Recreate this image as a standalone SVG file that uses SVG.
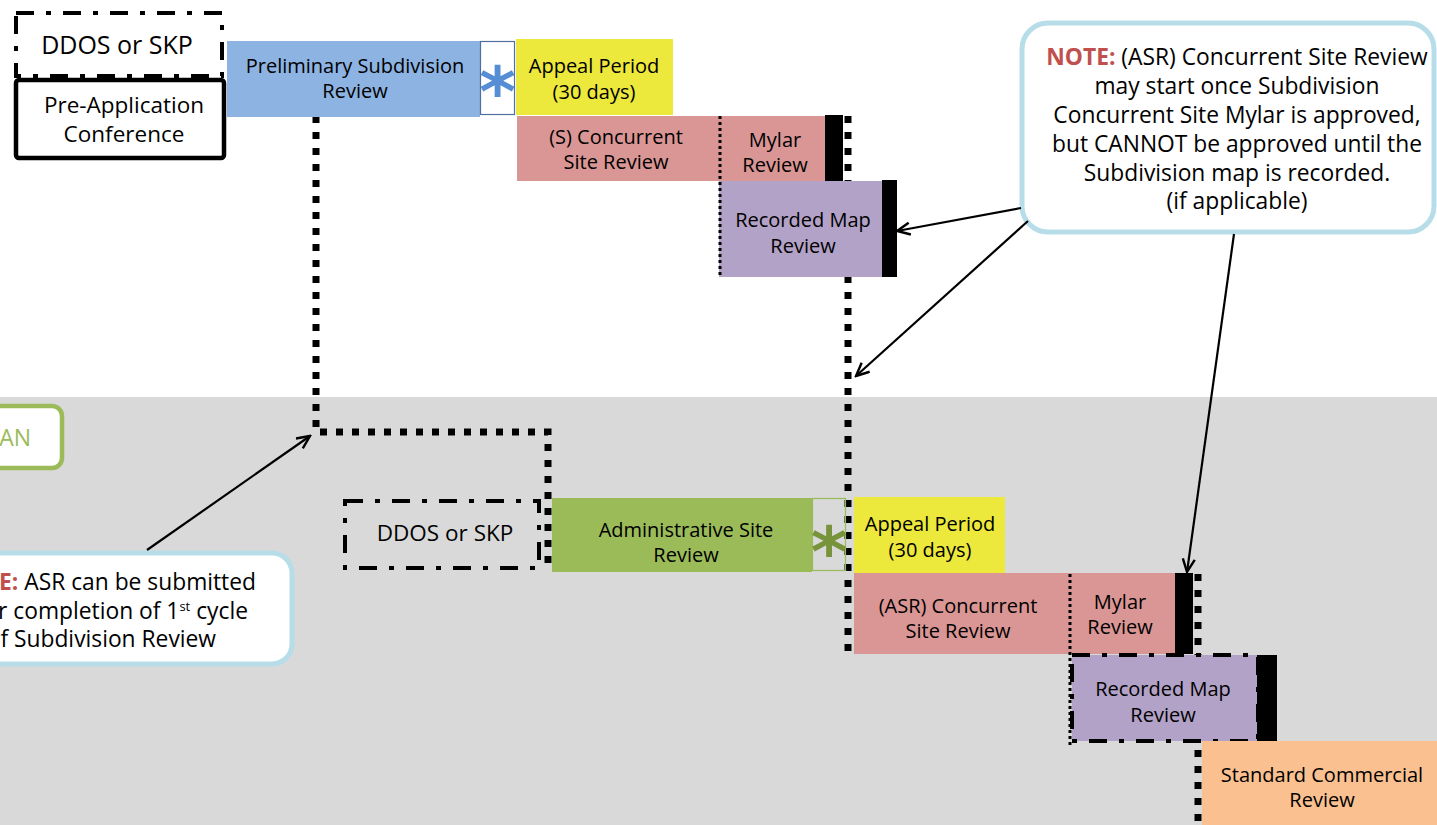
<svg xmlns="http://www.w3.org/2000/svg" width="1437" height="825" viewBox="0 0 1437 825">
<defs>
<style>
text{font-family:"Open Sans","Noto Sans","DejaVu Sans",sans-serif;fill:#000;}
.t{font-size:20px;text-anchor:middle;}
.big{font-size:24px;text-anchor:middle;}
.note{font-size:22.8px;text-anchor:middle;}
.nl{font-size:22.8px;text-anchor:end;}
.red{fill:#c0504d;font-weight:bold;}
.bigdot{fill:none;stroke:#000;stroke-width:7;stroke-dasharray:7 9;}
.smdot{fill:none;stroke:#000;stroke-width:3;stroke-dasharray:3 3;}
.dashdot{fill:none;stroke:#000;stroke-width:4;stroke-dasharray:18 12 5 12;}
.arrow{fill:none;stroke:#000;stroke-width:2.2;marker-end:url(#open);}
.blue{fill:#8db3e2;}
.yellow{fill:#ece83c;}
.pink{fill:#da9694;}
.purple{fill:#b3a2c7;}
.green{fill:#9bbb59;}
.orange{fill:#fac090;}
.bar{fill:#000;}
.notebox{fill:#fff;stroke:#b7dde8;stroke-width:5;}
.ast{font-family:"DejaVu Sans",sans-serif;font-weight:bold;font-size:70px;text-anchor:middle;}
</style>
<marker id="open" markerUnits="userSpaceOnUse" markerWidth="16" markerHeight="16" refX="14" refY="7" orient="auto">
<path d="M1,1 L14,7 L1,13" fill="none" stroke="#000" stroke-width="2.4"/>
</marker>
</defs>

<rect x="0" y="0" width="1437" height="397" fill="#fff"/>
<rect x="0" y="397" width="1437" height="428" fill="#d9d9d9"/>

<g id="connectors">
<polyline class="bigdot" points="316,116 316,432 548,432 548,572"/>
<line class="bigdot" x1="848" y1="116" x2="848" y2="654"/>
<line class="bigdot" x1="1198" y1="574" x2="1198" y2="825"/>
</g>

<g id="ddos-top">
<rect class="dashdot" x="16" y="13" width="206" height="63"/>
<text class="big" x="117" y="54" style="font-size:25px">DDOS or SKP</text>
</g>

<g id="pre-app">
<rect x="16" y="80" width="208" height="78" rx="3" fill="#fff" stroke="#000" stroke-width="4.5"/>
<text class="big" x="124" y="113" style="font-size:22.5px">Pre-Application</text>
<text class="big" x="124" y="142" style="font-size:22.5px">Conference</text>
</g>

<g id="prelim">
<rect class="blue" x="227" y="41" width="253" height="76"/>
<text class="t" x="355" y="73">Preliminary Subdivision</text>
<text class="t" x="355" y="98">Review</text>
</g>

<g id="ast-top">
<rect x="480.5" y="41.5" width="34" height="73" fill="#fff" stroke="#4f6fa0" stroke-width="1.2"/>
<text class="ast" x="497.5" y="116" style="fill:#558ed5">*</text>
</g>

<g id="appeal-top">
<rect class="yellow" x="516" y="39" width="157" height="76"/>
<text class="t" x="594" y="73">Appeal Period</text>
<text class="t" x="594" y="99">(30 days)</text>
</g>

<g id="concurrent-top">
<rect class="pink" x="517" y="116" width="309" height="65"/>
<text class="t" x="616" y="144">(S) Concurrent</text>
<text class="t" x="616" y="169">Site Review</text>
</g>

<g id="mylar-top">
<text class="t" x="775" y="147">Mylar</text>
<text class="t" x="775" y="172">Review</text>
<rect class="bar" x="825" y="115" width="18" height="66"/>
</g>

<g id="recorded-top">
<rect class="purple" x="719" y="181" width="163" height="96"/>
<rect class="bar" x="882" y="180" width="15" height="97"/>
<text class="t" x="803" y="227">Recorded Map</text>
<text class="t" x="803" y="253">Review</text>
</g>
<line class="smdot" x1="720" y1="116" x2="720" y2="277"/>

<g id="plan-label">
<rect x="-30" y="406" width="92" height="62" rx="10" fill="#fff" stroke="#9bbb59" stroke-width="4.5"/>
<text x="31" y="446" style="font-size:23px;text-anchor:end;fill:#9bbb59">AN</text>
</g>

<g id="note-bottom">
<rect class="notebox" x="-30" y="553" width="322" height="111" rx="20"/>
<text class="nl" x="256" y="590"><tspan class="red">E:</tspan> ASR can be submitted</text>
<text class="nl" x="248" y="619">r completion of 1<tspan dy="-8" style="font-size:13px">st</tspan><tspan dy="8"> cycle</tspan></text>
<text class="nl" x="216" y="647">f Subdivision Review</text>
</g>

<g id="ddos-bottom">
<rect class="dashdot" x="345" y="501" width="194" height="67"/>
<text class="big" x="445" y="541" style="font-size:22.5px">DDOS or SKP</text>
</g>

<g id="admin">
<rect class="green" x="552" y="498" width="260" height="74"/>
<text class="t" x="686" y="537">Administrative Site</text>
<text class="t" x="686" y="562">Review</text>
</g>

<g id="ast-bottom">
<rect x="812.5" y="498.5" width="33" height="72" fill="none" stroke="#9bbb59" stroke-width="1.2"/>
<text class="ast" x="829" y="576" style="fill:#77933c">*</text>
</g>

<g id="appeal-bottom">
<rect class="yellow" x="854" y="497" width="151" height="76"/>
<text class="t" x="930" y="531">Appeal Period</text>
<text class="t" x="930" y="557">(30 days)</text>
</g>

<g id="concurrent-bottom">
<rect class="pink" x="854" y="573" width="322" height="81"/>
<text class="t" x="958" y="613">(ASR) Concurrent</text>
<text class="t" x="958" y="638">Site Review</text>
</g>

<g id="mylar-bottom">
<text class="t" x="1120" y="609">Mylar</text>
<text class="t" x="1120" y="634">Review</text>
<rect class="bar" x="1175" y="573" width="18" height="81"/>
</g>

<g id="recorded-bottom">
<rect class="purple" x="1072" y="655" width="186" height="86"/>
<rect class="dashdot" x="1072" y="655" width="186" height="86"/>
<rect class="bar" x="1257" y="655" width="20" height="86"/>
<text class="t" x="1163" y="696">Recorded Map</text>
<text class="t" x="1163" y="722">Review</text>
</g>
<line class="smdot" x1="1070" y1="574" x2="1070" y2="745"/>

<g id="standard">
<rect class="orange" x="1202" y="741" width="235" height="84"/>
<text class="t" x="1322" y="782">Standard Commercial</text>
<text class="t" x="1322" y="807">Review</text>
</g>

<g id="note-top">
<rect class="notebox" x="1022" y="23" width="412" height="209" rx="26"/>
<text class="note" x="1237" y="65"><tspan class="red">NOTE:</tspan> (ASR) Concurrent Site Review</text>
<text class="note" x="1237" y="94">may start once Subdivision</text>
<text class="note" x="1237" y="123">Concurrent Site Mylar is approved,</text>
<text class="note" x="1237" y="152">but CANNOT be approved until the</text>
<text class="note" x="1237" y="181">Subdivision map is recorded.</text>
<text class="note" x="1237" y="209">(if applicable)</text>
</g>

<g id="arrows">
<line class="arrow" x1="1021" y1="208" x2="897" y2="231"/>
<line class="arrow" x1="1028" y1="221" x2="856" y2="376"/>
<line class="arrow" x1="1234" y1="234" x2="1187" y2="572"/>
<line class="arrow" x1="147" y1="550" x2="310" y2="436"/>
</g>
</svg>
